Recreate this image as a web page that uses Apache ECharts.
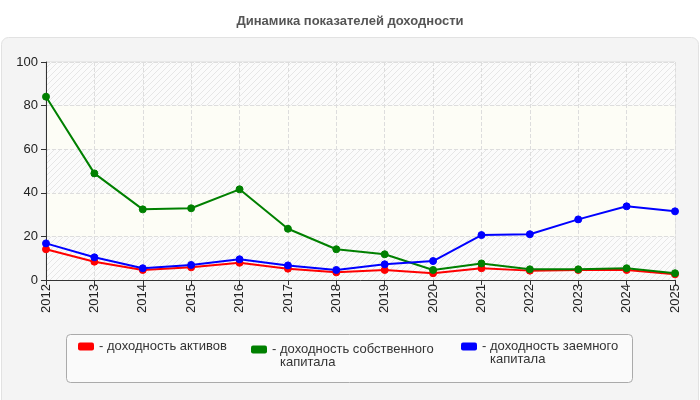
<!DOCTYPE html>
<html>
<head>
<meta charset="utf-8">
<script src="https://cdn.jsdelivr.net/npm/echarts@6/dist/echarts.min.js"></script>
<style>
  html, body { margin: 0; padding: 0; background: #fff; }
  #demo { width: 700px; height: 400px; }
</style>
</head>
<body>
<div id="demo"></div>
<script>
var years = ["2012","2013","2014","2015","2016","2017","2018","2019","2020","2021","2022","2023","2024","2025"];
var assets = [14.1, 8.4, 4.6, 5.8, 7.9, 5.2, 3.5, 4.6, 3.1, 5.4, 4.3, 4.6, 4.6, 2.6];
var equity = [84.1, 48.9, 32.4, 32.9, 41.6, 23.5, 14.1, 11.8, 4.6, 7.6, 4.9, 4.9, 5.4, 3.1];
var borrowed = [16.8, 10.4, 5.4, 6.9, 9.5, 6.7, 4.6, 7.2, 8.7, 20.6, 21.0, 27.8, 33.8, 31.5];
var names = ["доходность активов", "доходность собственного капитала", "доходность заемного капитала"];
var yTicks = [0, 20, 40, 60, 80, 100];

// штриховка для полос фона
var hatch = document.createElement('canvas');
hatch.width = 6; hatch.height = 6;
var hc = hatch.getContext('2d');
hc.fillStyle = '#fbfbfb';
hc.fillRect(0, 0, 6, 6);
hc.strokeStyle = '#e6e6e6';
hc.lineWidth = 1;
hc.beginPath();
hc.moveTo(0, 6); hc.lineTo(6, 0);
hc.moveTo(-1, 1); hc.lineTo(1, -1);
hc.moveTo(5, 7); hc.lineTo(7, 5);
hc.stroke();

var myChart = echarts.init(document.getElementById('demo'));

function legendFor(i, left, top, twoLine) {
    var parts = names[i].split(' ');
    var text;
    if (twoLine) {
        text = '{d|-}{t|' + parts[0] + ' ' + parts[1] + '}\n{d|\u00a0}{t|' + parts[2] + '}';
    } else {
        text = '{d|-}{t|' + names[i] + '}';
    }
    return {
        data: [names[i]],
        left: left,
        top: top,
        padding: 0,
        itemWidth: 16,
        itemHeight: 8,
        itemGap: 3,
        icon: 'roundRect',
        selectedMode: false,
        formatter: function () { return text; },
        textStyle: {
            fontFamily: 'Liberation Sans',
            fontSize: 13,
            color: '#333',
            lineHeight: 13,
            padding: twoLine ? [13, 0, 0, 0] : 0,
            rich: {
                d: { width: 8, fontSize: 13, color: '#333', fontFamily: 'Liberation Sans', lineHeight: 13 },
                t: { fontSize: 13, color: '#333', fontFamily: 'Liberation Sans', lineHeight: 13 }
            }
        }
    };
}

function line(name, data, color) {
    return {
        name: name,
        type: 'line',
        data: data,
        symbol: 'circle',
        symbolSize: 7,
        lineStyle: { color: color, width: 2 },
        itemStyle: { color: color, borderColor: color },
        emphasis: { disabled: true }
    };
}

var option = {
    backgroundColor: '#fff',
    animation: false,
    title: {
        text: 'Динамика показателей доходности',
        left: 'center',
        top: 10,
        textStyle: { fontFamily: 'Liberation Sans', fontSize: 13, fontWeight: 'bold', color: '#555' }
    },
    graphic: [
        {
            type: 'rect', z: -10, silent: true,
            shape: { x: 1.5, y: 37.5, width: 697, height: 370, r: 7 },
            style: { fill: '#f4f4f4', stroke: '#e2e2e2', lineWidth: 1 }
        },
        {
            type: 'rect', z: -9, silent: true,
            shape: { x: 66.5, y: 334.5, width: 566, height: 48, r: 4 },
            style: { fill: '#fafafa', stroke: '#aaaaaa', lineWidth: 1 }
        }
    ],
    legend: [
        legendFor(0, 78, 340, false),
        legendFor(1, 251, 330, true),
        legendFor(2, 461, 327, true)
    ],
    grid: {
        left: 46, right: 25, top: 62, bottom: 120,
        show: true, borderColor: '#dddddd', borderWidth: 1, backgroundColor: 'transparent'
    },
    xAxis: {
        type: 'category',
        data: years,
        boundaryGap: false,
        axisLine: { lineStyle: { color: '#333', width: 1 } },
        axisTick: { show: true, length: 5, lineStyle: { color: '#333' } },
        axisLabel: { rotate: 90, margin: 4, fontFamily: 'Liberation Sans', fontSize: 13, color: '#222' },
        splitLine: { show: true, lineStyle: { type: 'dashed', color: '#dddddd' } }
    },
    yAxis: {
        type: 'value',
        min: yTicks[0],
        max: yTicks[yTicks.length - 1],
        interval: yTicks[1] - yTicks[0],
        axisLine: { show: true, lineStyle: { color: '#333', width: 1 } },
        axisTick: { show: true, length: 5, lineStyle: { color: '#333' } },
        axisLabel: { margin: 8, fontFamily: 'Liberation Sans', fontSize: 13, color: '#222' },
        splitLine: { show: true, lineStyle: { type: 'dashed', color: '#dddddd' } },
        splitArea: {
            show: true,
            areaStyle: { color: [{ image: hatch, repeat: 'repeat' }, '#fdfdf6'] }
        }
    },
    series: [
        line(names[0], assets, '#ff0000'),
        line(names[1], equity, '#008000'),
        line(names[2], borrowed, '#0000ff')
    ]
};
myChart.setOption(option);
</script>
</body>
</html>
